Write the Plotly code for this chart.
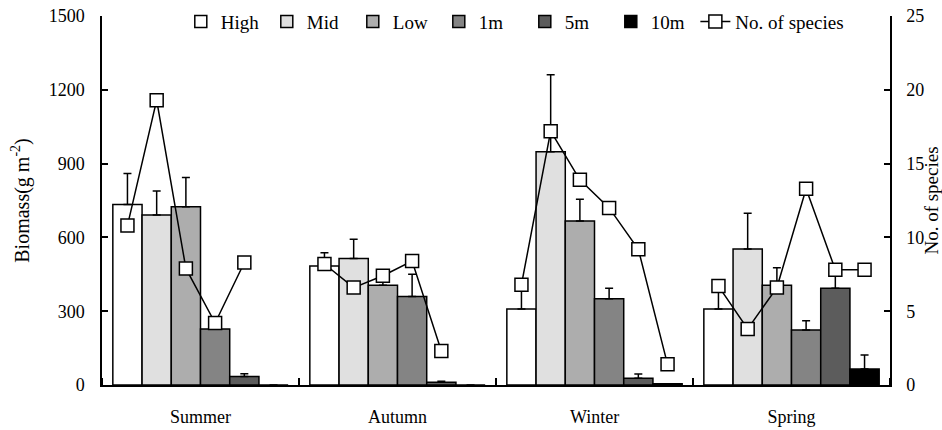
import plotly.graph_objects as go

seasons = ["Summer", "Autumn", "Winter", "Spring"]
zones = ["High", "Mid", "Low", "1m", "5m", "10m"]
colors = ["#ffffff", "#e0e0e0", "#adadad", "#848484", "#5c5c5c", "#000000"]

# biomass (g m-2) per zone, one value per season
biomass = {
    "High": [734, 484, 309, 309],
    "Mid":  [691, 514, 948, 553],
    "Low":  [725, 405, 667, 405],
    "1m":   [228, 360, 351, 224],
    "5m":   [35, 11, 27, 393],
    "10m":  [0, 0, 5, 65],
}
biomass_err = {
    "High": [126, 54, 75, 77],
    "Mid":  [98, 78, 313, 145],
    "Low":  [118, 20, 88, 72],
    "1m":   [46, 90, 42, 37],
    "5m":   [11, 4, 18, 50],
    "10m":  [0, 0, 0, 57],
}
# number of species per zone, per season
species = {
    "Summer": [10.8, 19.3, 7.9, 4.2, 8.3, None],
    "Autumn": [8.2, 6.6, 7.4, 8.4, 2.3, None],
    "Winter": [6.8, 17.2, 13.9, 12.0, 9.2, 1.4],
    "Spring": [6.7, 3.8, 6.6, 13.3, 7.8, 7.8],
}

FONT = "'Times New Roman', 'Liberation Serif', Times, serif"
BARGAP = 0.11
xpos = list(range(len(seasons)))

fig = go.Figure()
for z, c in zip(zones, colors):
    fig.add_trace(go.Bar(
        x=xpos, y=biomass[z], name=z,
        marker=dict(color=c, line=dict(color="black", width=1.5)),
        error_y=dict(type="data", symmetric=False, array=biomass_err[z],
                     arrayminus=[0] * len(seasons), color="black",
                     thickness=1.5, width=4),
        yaxis="y", legend="legend",
    ))

# species line: marker positions at bar centres of grouped bars
n = len(zones)
w = (1 - BARGAP) / n
lx, ly = [], []
for i, s in enumerate(seasons):
    for j in range(n):
        lx.append(i - (1 - BARGAP) / 2 + (j + 0.5) * w)
        ly.append(species[s][j])
    lx.append(None)
    ly.append(None)

fig.add_trace(go.Scatter(
    x=lx, y=ly, name="No. of species", mode="lines+markers",
    line=dict(color="black", width=1.5),
    marker=dict(symbol="square", size=13, color="white",
                line=dict(color="black", width=1.5)),
    yaxis="y2", connectgaps=False, legend="legend2",
))

fig.update_layout(
    width=942, height=430,
    margin=dict(l=102, r=52, t=16, b=45, autoexpand=False),
    paper_bgcolor="white", plot_bgcolor="white",
    font=dict(family=FONT, size=18, color="black"),
    barmode="group", bargap=BARGAP, bargroupgap=0,
    showlegend=True,
    legend=dict(orientation="h", x=0.1, y=0.985, xanchor="left", yanchor="middle",
                bgcolor="rgba(0,0,0,0)", font=dict(family=FONT, size=19),
                entrywidth=41, entrywidthmode="pixels", traceorder="normal"),
    legend2=dict(orientation="h", x=0.753, y=0.985, xanchor="left", yanchor="middle",
                 bgcolor="rgba(0,0,0,0)", font=dict(family=FONT, size=19)),
    xaxis=dict(range=[-0.5, 3.5], tickvals=xpos, ticktext=seasons,
               ticks="outside", ticklen=14, tickcolor="rgba(0,0,0,0)",
               showline=True, linecolor="black", linewidth=2,
               showgrid=False, zeroline=False,
               minor=dict(tick0=0.5, dtick=1, ticks="inside", ticklen=7,
                          tickcolor="black", tickwidth=1.5, showgrid=False)),
    yaxis=dict(range=[0, 1500], dtick=300, ticks="inside", ticklen=6,
               tickcolor="black", tickwidth=1.5, ticklabelstandoff=12,
               showline=True, linecolor="black", linewidth=1.5,
               showgrid=False, zeroline=False,
               title=dict(text="Biomass(g m<sup>-2</sup>)", font=dict(size=20), standoff=14)),
    yaxis2=dict(range=[0, 25], dtick=5, overlaying="y", side="right",
                ticks="inside", ticklen=6, tickcolor="black", tickwidth=1.5,
                ticklabelstandoff=11,
                showline=True, linecolor="black", linewidth=1.5,
                showgrid=False, zeroline=False,
                title=dict(text="No. of species", font=dict(size=19), standoff=9)),
)

fig.write_html("out.html", config={"displayModeBar": False},
               post_script="document.body.style.margin='0';document.body.style.padding='0';")
